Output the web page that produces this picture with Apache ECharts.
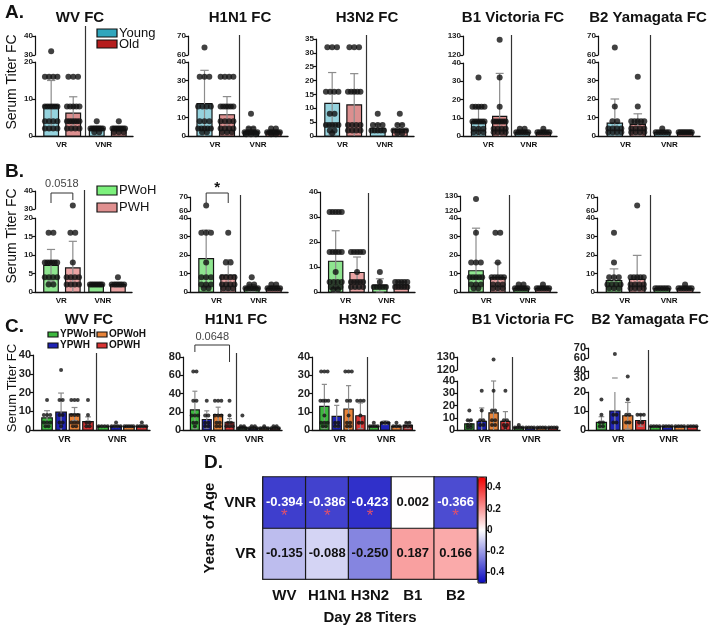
<!DOCTYPE html>
<html>
<head>
<meta charset="utf-8">
<script src="https://cdn.jsdelivr.net/npm/echarts@6/dist/echarts.min.js"></script>
<style>
  html, body { margin: 0; padding: 0; background: #fff; }
  #chart { width: 709px; height: 626px; }
</style>
</head>
<body>
<div id="chart"></div>
<script>
// ---------- data ----------
const titles = ['WV FC', 'H1N1 FC', 'H3N2 FC', 'B1 Victoria FC', 'B2 Yamagata FC'];

// Row A: Young VR, Old VR, Young VNR, Old VNR  (mean, SD, dots as [value, count])
const ageMean = [[8.3, 6.2, 2.0, 1.8], [17.5, 11.5, 2.3, 2.2], [11.8, 11.2, 2.8, 2.3], [7.8, 10.8, 2.0, 1.8], [7.0, 6.3, 2.0, 1.9]];
const ageSd = [[6.7, 4.4, 0.6, 0.6], [18, 9.8, 2.2, 0.9], [11.1, 11.3, 1.5, 2.0], [8, 23.5, 0.6, 0.6], [13, 5.7, 0.8, 0.4]];
const agePts = [
  [[[32, 1], [16, 4], [8, 6], [4, 4], [2, 4]], [[16, 3], [8, 5], [4, 6], [2, 4]], [[4, 1], [2, 8], [1, 2]], [[4, 1], [2, 8], [1, 3]]],
  [[[64, 1], [32, 3], [16, 4], [8, 3], [4, 5], [2, 2]], [[32, 4], [16, 6], [8, 4], [4, 4], [2, 3]], [[12, 1], [4, 2], [2, 6], [1, 3]], [[4, 2], [2, 6], [1, 2]]],
  [[[32, 3], [16, 4], [8, 2], [4, 5], [2, 2], [1, 1]], [[32, 3], [16, 5], [4, 4], [2, 4]], [[8, 1], [4, 3], [2, 5]], [[8, 1], [4, 2], [2, 4], [1, 2]]],
  [[[32, 1], [16, 5], [8, 6], [4, 3], [2, 3]], [[128, 1], [32, 1], [16, 1], [8, 6], [4, 4], [2, 4]], [[4, 2], [2, 6]], [[4, 1], [2, 6]]],
  [[[64, 1], [16, 1], [8, 2], [4, 4], [2, 4]], [[32, 1], [16, 1], [8, 5], [4, 4], [2, 4]], [[4, 1], [2, 6]], [[2, 8]]]
];

// Row B: PWoH VR, PWH VR, PWoH VNR, PWH VNR
const hivMean = [[7.2, 6.5, 2.0, 2.0], [18, 9.2, 2.2, 2.0], [12.3, 7.8, 2.7, 2.8], [11.5, 7.8, 2.0, 2.0], [6.2, 6.8, 1.8, 1.8]];
const hivSd = [[4.3, 7.2, 0.3, 0.6], [15.5, 8.3, 1.8, 0.8], [12.2, 6.2, 2.6, 1.2], [23, 7.9, 0.6, 0.6], [6.3, 13, 0.4, 0.6]];
const hivPts = [
  [[[16, 2], [8, 6], [4, 4], [2, 2]], [[32, 1], [16, 2], [8, 1], [4, 4], [2, 4]], [[2, 8]], [[4, 1], [2, 6]]],
  [[[64, 1], [32, 3], [16, 1], [8, 3], [4, 3], [2, 2]], [[32, 1], [16, 2], [8, 4], [4, 4], [2, 3]], [[8, 1], [4, 2], [2, 6]], [[4, 2], [2, 6]]],
  [[[32, 5], [16, 5], [8, 1], [4, 4], [2, 3], [1, 2]], [[16, 5], [8, 1], [4, 5], [2, 4]], [[8, 1], [4, 1], [2, 5]], [[4, 5], [2, 5]]],
  [[[128, 1], [32, 1], [16, 3], [8, 5], [4, 3], [2, 2]], [[32, 2], [16, 1], [8, 5], [4, 3], [2, 3]], [[4, 2], [2, 6]], [[4, 1], [2, 6]]],
  [[[32, 1], [16, 1], [8, 3], [4, 4], [2, 3]], [[64, 1], [8, 5], [4, 4], [2, 4]], [[2, 6]], [[4, 1], [2, 6]]]
];

// Row C: YPWoH, YPWH, OPWoH, OPWH for VR, then the same four for VNR
const grpMean = [
  [6.5, 9.5, 8.5, 4.5, 2.0, 2.0, 1.8, 2.0],
  [22, 11.5, 17, 8.5, 2.5, 2.0, 2.0, 2.2],
  [13, 7.5, 11.5, 7.8, 2.0, 4.0, 2.0, 2.5],
  [5, 7, 14, 7, 2.0, 1.8, 1.8, 1.8],
  [4, 10, 7.5, 5, 1.8, 1.8, 1.8, 1.8]
];
const grpSd = [
  [3.8, 10.2, 3.5, 2.5, 0.3, 0.5, 0.4, 0.6],
  [20.5, 9.5, 8, 4, 1.5, 0.6, 0.6, 0.8],
  [12, 6, 12.8, 7, 0.5, 1, 0.5, 1.5],
  [3, 11, 26, 8, 0.6, 0.4, 0.4, 0.4],
  [3, 20, 7, 3, 0.4, 0.4, 0.4, 0.4]
];
const grpPts = [
  [[[16, 1], [8, 3], [4, 3], [2, 2]], [[32, 1], [16, 2], [8, 2], [4, 2], [2, 1]], [[16, 3], [8, 3], [4, 3], [2, 2]], [[16, 1], [8, 1], [4, 2], [2, 2]], [[2, 4]], [[4, 1], [2, 4]], [[2, 5]], [[4, 1], [2, 4]]],
  [[[64, 2], [32, 2], [16, 3], [8, 2], [4, 1]], [[32, 1], [16, 2], [8, 2], [4, 2]], [[32, 3], [16, 3], [8, 2], [4, 2]], [[32, 1], [16, 1], [8, 2], [4, 3]], [[16, 1], [4, 2], [2, 4]], [[4, 2], [2, 4]], [[4, 1], [2, 4]], [[4, 2], [2, 4]]],
  [[[32, 3], [16, 4], [8, 1], [4, 3], [2, 2]], [[16, 1], [4, 2], [2, 2]], [[32, 3], [16, 2], [8, 1], [4, 2], [2, 2]], [[16, 3], [8, 1], [4, 2]], [[4, 1], [2, 4]], [[4, 3]], [[4, 1], [2, 3]], [[4, 2], [2, 3]]],
  [[[16, 1], [8, 2], [4, 2], [2, 2]], [[32, 1], [16, 1], [8, 2], [4, 2]], [[128, 1], [32, 1], [16, 2], [8, 2], [4, 2]], [[32, 1], [8, 2], [4, 2], [2, 1]], [[4, 1], [2, 4]], [[2, 4]], [[2, 4]], [[2, 4]]],
  [[[16, 1], [8, 1], [4, 2], [2, 2]], [[64, 1], [8, 2], [4, 2]], [[32, 1], [16, 1], [8, 2], [4, 2]], [[8, 3], [4, 2]], [[2, 4]], [[2, 4]], [[2, 4]], [[2, 4]]]
];

// Panel D: correlation with years of age
const heatX = ['WV', 'H1N1', 'H3N2', 'B1', 'B2'];
const heatY = ['VR', 'VNR'];
const heatVR = [-0.135, -0.088, -0.250, 0.187, 0.166];
const heatVNR = [-0.394, -0.386, -0.423, 0.002, -0.366];
const heatVNRSig = [1, 1, 1, 0, 1];
const barTicks = [-0.4, -0.2, 0, 0.2, 0.4];

// ---------- layout ----------
const FONT = '"Liberation Sans", Arial, sans-serif';

// segs: [min, max, yPixelOfMin, yPixelOfMax, interval]
const layA = [
  { left: 35, right: 133, sepTop: 26, title: 80, segs: [[0, 20, 136, 62, 10], [30, 40, 55, 36, 10]] },
  { left: 188, right: 288, sepTop: 35, title: 240, segs: [[0, 40, 136, 62, 10], [60, 70, 55, 36, 10]] },
  { left: 316, right: 414, sepTop: 35, title: 367, segs: [[0, 35, 136, 39, 5]] },
  { left: 463, right: 557, sepTop: 35, title: 513, segs: [[0, 40, 136, 63, 10], [120, 130, 55, 36, 10]] },
  { left: 598, right: 700, sepTop: 35, title: 648, segs: [[0, 40, 136, 62, 10], [60, 70, 55, 36, 10]] }
];
const layB = [
  { left: 35, right: 132, sepTop: 190, segs: [[0, 20, 292, 218, 5], [30, 40, 209, 191, 10]] },
  { left: 190, right: 288, sepTop: 195, segs: [[0, 40, 292, 218, 10], [60, 70, 211, 197, 10]] },
  { left: 320, right: 415, sepTop: 193, segs: [[0, 40, 292, 192, 10]] },
  { left: 460, right: 557, sepTop: 195, segs: [[0, 40, 292, 218, 10], [120, 130, 211, 196, 10]] },
  { left: 597, right: 700, sepTop: 195, segs: [[0, 40, 292, 218, 10], [60, 70, 211, 197, 10]] }
];
const layC = [
  { left: 33, right: 150, sepTop: 353, title: 89, segs: [[0, 40, 430, 355, 10]] },
  { left: 183, right: 282, sepTop: 353, title: 236, segs: [[0, 80, 430, 357, 20]] },
  { left: 312, right: 415, sepTop: 357, title: 370, segs: [[0, 40, 430, 357, 10]] },
  { left: 457, right: 560, sepTop: 357, title: 523, segs: [[0, 40, 430, 381, 10], [120, 130, 370, 357, 10]] },
  { left: 588, right: 700, sepTop: 350, title: 650, segs: [[0, 20, 430, 392, 10], [30, 40, 378, 371, 10], [60, 70, 358, 348, 10]] }
];

const rowA = { xs: [0.165, 0.39, 0.63, 0.855], bw: 0.15, sep: 0.51, labelX: [0.27, 0.70], dot: 6, yFont: 8, xFont: 8,
  fills: ['#95d3de', '#dc8f8f', '#95d3de', '#dc8f8f'] };
const rowB = { xs: [0.165, 0.39, 0.63, 0.855], bw: 0.15, sep: 0.51, labelX: [0.27, 0.70], dot: 6, yFont: 8, xFont: 8,
  fills: ['#8ee58f', '#eba4a4', '#8ee58f', '#eba4a4'] };
const cFill = ['#3db83f', '#1e22b4', '#e8843a', '#d93434'];
const rowC = { xs: [0.12, 0.24, 0.355, 0.47, 0.6, 0.71, 0.82, 0.93], bw: 0.09, sep: 0.535, labelX: [0.27, 0.72], dot: 4, yFont: 11, xFont: 9,
  fills: cFill.concat(cFill) };

const option = {
  animation: false,
  backgroundColor: '#fff',
  grid: [], xAxis: [], yAxis: [], series: [], graphic: []
};
const G = option.graphic;

function spreadDots(pts, xc, bw, dotPx, wPx, lo, hi) {
  const out = [];
  pts.forEach(([v, n]) => {
    if (v < lo || v > hi) return;
    const maxSpan = bw * 0.85;
    let step = dotPx * 0.8 / wPx;
    if (n > 1 && step * (n - 1) > maxSpan) step = maxSpan / (n - 1);
    for (let i = 0; i < n; i++) out.push([xc + (i - (n - 1) / 2) * step, v]);
  });
  return out;
}

function addPanel(lay, row, means, sds, pts) {
  const w = lay.right - lay.left;
  lay.segs.forEach((s, k) => {
    const [lo, hi, yb, yt, step] = s;
    const gi = option.grid.length;
    option.grid.push({ left: lay.left, top: yt, width: w, height: yb - yt });
    option.xAxis.push({
      gridIndex: gi, type: 'value', min: 0, max: 1, show: k === 0,
      axisLine: { show: true, onZero: false, lineStyle: { color: '#111', width: 1.4 } },
      axisTick: { show: false }, splitLine: { show: false },
      axisLabel: {
        customValues: row.labelX, formatter: v => (v < 0.5 ? 'VR' : 'VNR'),
        fontFamily: FONT, fontWeight: 'bold', fontSize: row.xFont, color: '#111', margin: 5
      }
    });
    const labelStyle = { fontFamily: FONT, fontWeight: 'bold', fontSize: row.yFont, color: '#222', margin: 2,
      showMinLabel: true, showMaxLabel: true };
    const tiny = (yb - yt) < 12;
    const yi = option.yAxis.length;
    option.yAxis.push({
      gridIndex: gi, type: 'value', position: 'left', offset: 0, min: lo, max: hi, interval: step,
      axisLine: { show: true, onZero: false, lineStyle: { color: '#111', width: 1.2 } },
      axisTick: { show: true, length: 3, lineStyle: { color: '#111', width: 1.2 } },
      splitLine: { show: false },
      axisLabel: tiny ? Object.assign({ customValues: [hi] }, labelStyle) : labelStyle
    });
    if (tiny) {
      // a short segment: its bottom label goes on a twin axis so the two labels do not hide each other
      option.yAxis.push({
        gridIndex: gi, type: 'value', position: 'left', offset: 0, min: lo, max: hi, interval: step,
        axisLine: { show: false }, axisTick: { show: false }, splitLine: { show: false },
        axisLabel: Object.assign({ customValues: [lo] }, labelStyle)
      });
    }
    const bw = row.bw;
    const clampY = v => Math.min(hi, Math.max(lo, v));
    option.series.push({
      type: 'custom', xAxisIndex: gi, yAxisIndex: yi,
      data: means.map((m, i) => [row.xs[i], m, sds[i], i]),
      renderItem: (params, api) => {
        const x = api.value(0), m = api.value(1), sd = api.value(2), idx = api.value(3);
        const kids = [];
        if (m > lo) {
          const tl = api.coord([x - bw / 2, clampY(m)]);
          const br = api.coord([x + bw / 2, clampY(0)]);
          kids.push({ type: 'rect', shape: { x: tl[0], y: tl[1], width: br[0] - tl[0], height: br[1] - tl[1] },
            style: { fill: row.fills[idx], stroke: '#151515', lineWidth: 1.2 } });
        }
        const up = m + sd, down = Math.max(0, m - sd);
        const capW = api.size([bw, 0])[0] * 0.28;
        const es = { stroke: '#8c8c8c', lineWidth: 1.2 };
        if (up > lo && down < hi) {
          const a = api.coord([x, clampY(up)]), b = api.coord([x, clampY(down)]);
          kids.push({ type: 'line', shape: { x1: a[0], y1: a[1], x2: b[0], y2: b[1] }, style: es });
        }
        [up, m - sd > 0 ? down : null].forEach(v => {
          if (v === null || v < lo || v > hi) return;
          const c = api.coord([x, v]);
          kids.push({ type: 'line', shape: { x1: c[0] - capW, y1: c[1], x2: c[0] + capW, y2: c[1] }, style: es });
        });
        return { type: 'group', children: kids };
      }
    });
    let dots = [];
    pts.forEach((p, i) => { dots = dots.concat(spreadDots(p, row.xs[i], bw, row.dot, w, lo, hi)); });
    option.series.push({
      type: 'scatter', xAxisIndex: gi, yAxisIndex: yi, symbolSize: row.dot,
      itemStyle: { color: '#111' }, data: dots
    });
  });
  // separator between VR and VNR
  const sx = Math.round(lay.left + row.sep * w) + 0.5;
  G.push({ type: 'line', shape: { x1: sx, y1: lay.sepTop, x2: sx, y2: lay.segs[0][2] },
    style: { stroke: '#333', lineWidth: 1.2 } });
}

function text(x, y, t, font, extra) {
  G.push(Object.assign({ type: 'text', x: x, y: y,
    style: Object.assign({ text: t, font: font, fill: '#111', textAlign: 'center', textVerticalAlign: 'middle' }, extra || {}) }));
}
function legendBox(x, y, w, h, color, label, font) {
  G.push({ type: 'rect', shape: { x: x, y: y, width: w, height: h }, style: { fill: color, stroke: '#111', lineWidth: 1.2 } });
  text(x + w + 2, y + h / 2, label, font, { textAlign: 'left' });
}
function bracket(lay, row, i0, i1, yTop, yL, yR) {
  const w = lay.right - lay.left;
  const x0 = lay.left + row.xs[i0] * w, x1 = lay.left + row.xs[i1] * w;
  G.push({ type: 'polyline', shape: { points: [[x0, yL], [x0, yTop], [x1, yTop], [x1, yR]] },
    style: { stroke: '#333', lineWidth: 1, fill: null } });
  return (x0 + x1) / 2;
}

// rows A, B, C
for (let p = 0; p < 5; p++) {
  addPanel(layA[p], rowA, ageMean[p], ageSd[p], agePts[p]);
  addPanel(layB[p], rowB, hivMean[p], hivSd[p], hivPts[p]);
  addPanel(layC[p], rowC, grpMean[p], grpSd[p], grpPts[p]);
  text(layA[p].title, 18, titles[p], 'bold 15px ' + FONT);
  text(layC[p].title, 320, titles[p], 'bold 15px ' + FONT);
}

// panel letters and axis names
text(5, 13, 'A.', 'bold 19px ' + FONT, { textAlign: 'left' });
text(5, 172, 'B.', 'bold 19px ' + FONT, { textAlign: 'left' });
text(5, 327, 'C.', 'bold 19px ' + FONT, { textAlign: 'left' });
text(204, 463, 'D.', 'bold 19px ' + FONT, { textAlign: 'left' });
[[12, 82, 14], [12, 236, 14], [12, 388, 13]].forEach(([x, y, s]) => {
  G.push({ type: 'text', x: x, y: y, rotation: Math.PI / 2,
    style: { text: 'Serum Titer FC', font: s + 'px ' + FONT, fill: '#111', textAlign: 'center', textVerticalAlign: 'middle' } });
});

// legends
legendBox(97, 29, 20, 8, '#2fa6bd', 'Young', '13px ' + FONT);
legendBox(97, 40, 20, 8, '#b51d1d', 'Old', '13px ' + FONT);
legendBox(97, 186, 20, 9, '#7cf07c', 'PWoH', '13px ' + FONT);
legendBox(97, 203, 20, 9, '#e09090', 'PWH', '13px ' + FONT);
legendBox(48, 332, 10, 5, cFill[0], 'YPWoH', 'bold 10px ' + FONT);
legendBox(97, 332, 10, 5, cFill[2], 'OPWoH', 'bold 10px ' + FONT);
legendBox(48, 343, 10, 5, cFill[1], 'YPWH', 'bold 10px ' + FONT);
legendBox(97, 343, 10, 5, cFill[3], 'OPWH', 'bold 10px ' + FONT);

// significance brackets
let mx = bracket(layB[0], rowB, 0, 1, 193, 203, 200);
text(mx, 184, '0.0518', '11px ' + FONT, { fill: '#444' });
mx = bracket(layB[1], rowB, 0, 1, 193, 203, 203);
text(mx, 188, '*', 'bold 15px ' + FONT);
mx = bracket(layC[1], rowC, 0, 3, 345, 352, 362);
text(mx, 337, '0.0648', '11px ' + FONT, { fill: '#444' });

// ---------- panel D heatmap ----------
const hg = option.grid.length;
option.grid.push({ left: 263, top: 477, width: 214, height: 106 });
option.xAxis.push({
  gridIndex: hg, type: 'category', data: heatX,
  axisLine: { lineStyle: { color: '#111', width: 1.5 } },
  axisTick: { alignWithLabel: true, length: 5, lineStyle: { color: '#111', width: 1.5 } },
  axisLabel: { interval: 0, fontFamily: FONT, fontWeight: 'bold', fontSize: 15, color: '#111', margin: 9 },
  name: 'Day 28 Titers', nameLocation: 'middle', nameGap: 31,
  nameTextStyle: { fontFamily: FONT, fontWeight: 'bold', fontSize: 15, color: '#111' }
});
const hy = option.yAxis.length;
option.yAxis.push({
  gridIndex: hg, type: 'category', data: heatY,
  axisLine: { lineStyle: { color: '#111', width: 1.5 } },
  axisTick: { alignWithLabel: true, length: 5, lineStyle: { color: '#111', width: 1.5 } },
  axisLabel: { interval: 0, fontFamily: FONT, fontWeight: 'bold', fontSize: 15, color: '#111', margin: 7 },
  name: 'Years of Age', nameLocation: 'middle', nameGap: 46,
  nameTextStyle: { fontFamily: FONT, fontWeight: 'bold', fontSize: 15, color: '#111' }
});
const heatData = [];
heatX.forEach((c, i) => {
  heatData.push({ value: [i, 0, heatVR[i]], label: { color: '#111' } });
  const sig = heatVNRSig[i] === 1;
  heatData.push({ value: [i, 1, heatVNR[i]],
    label: { color: Math.abs(heatVNR[i]) > 0.3 ? '#fff' : '#111', offset: [0, sig ? 6 : 0],
      formatter: p => '{v|' + p.value[2].toFixed(3) + '}' + (sig ? '\n{s|*}' : '') } });
});
const heatSeries = option.series.length;
option.series.push({
  type: 'heatmap', xAxisIndex: hg, yAxisIndex: hy, data: heatData,
  itemStyle: { borderColor: '#1a1a1a', borderWidth: 1.2 },
  label: {
    show: true, formatter: p => '{v|' + p.value[2].toFixed(3) + '}',
    rich: {
      v: { fontFamily: FONT, fontWeight: 'bold', fontSize: 13, lineHeight: 16 },
      s: { fontFamily: FONT, fontSize: 17, lineHeight: 12, color: '#e0506a' }
    }
  }
});
option.visualMap = {
  type: 'continuous', seriesIndex: heatSeries, min: -0.5, max: 0.5, calculable: false,
  inRange: { color: ['#0a0ac0', '#ffffff', '#f00000'] },
  left: 478, top: 477, itemWidth: 8, itemHeight: 106, padding: 0, text: ['', ''], textGap: 0
};
// colour bar scale
const cg = option.grid.length;
option.grid.push({ left: 478, top: 477, width: 8, height: 106 });
option.xAxis.push({ gridIndex: cg, type: 'value', show: false, min: 0, max: 1 });
option.yAxis.push({
  gridIndex: cg, type: 'value', position: 'right', min: -0.5, max: 0.5, z: 10,
  axisLine: { show: true, onZero: false, lineStyle: { color: '#111', width: 1 } },
  axisTick: { show: true, length: 3, customValues: barTicks, lineStyle: { color: '#111' } },
  splitLine: { show: false },
  axisLabel: { customValues: barTicks, formatter: v => (v === 0 ? '0' : v.toFixed(1)),
    fontFamily: FONT, fontWeight: 'bold', fontSize: 10, color: '#111', margin: 1 }
});
G.push({ type: 'rect', z: 100, shape: { x: 478, y: 477, width: 8, height: 106 }, style: { fill: null, stroke: '#111', lineWidth: 1 } });

const chart = echarts.init(document.getElementById('chart'));
chart.setOption(option);
</script>
</body>
</html>
